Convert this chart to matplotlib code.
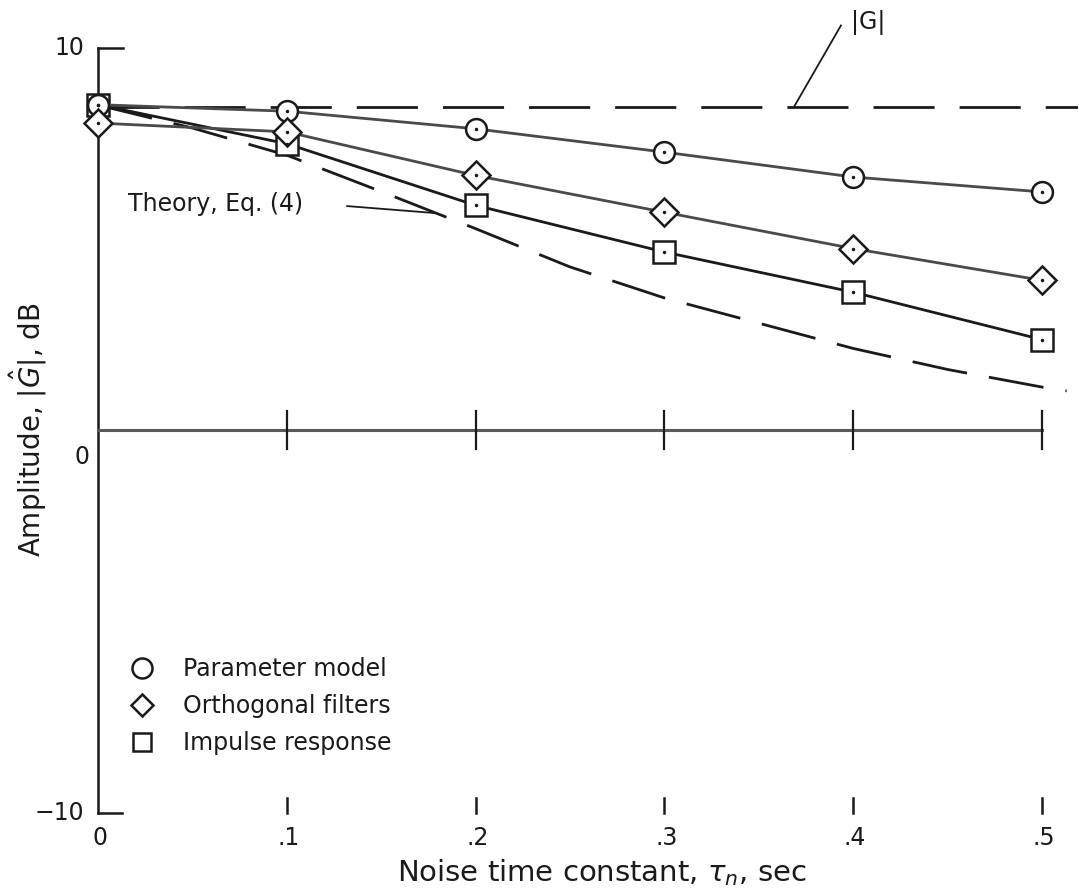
import matplotlib
matplotlib.use("Agg")
import matplotlib.pyplot as plt
from matplotlib.lines import Line2D

# ---- data ----
tau = [0.0, 0.1, 0.2, 0.3, 0.4, 0.5]
param_model = [8.51, 8.34, 7.88, 7.27, 6.62, 6.23]
orth_filters = [8.03, 7.80, 6.66, 5.70, 4.75, 3.92]
impulse_resp = [8.51, 7.49, 5.88, 4.66, 3.61, 2.37]

theory_tau = [0.0, 0.05, 0.1, 0.15, 0.2, 0.25, 0.3, 0.35, 0.4, 0.45, 0.5, 0.513]
theory_amp = [8.5, 7.9, 7.19, 6.24, 5.27, 4.27, 3.46, 2.80, 2.14, 1.59, 1.13, 1.03]

g_true = 8.45
x_ticks = [0.1, 0.2, 0.3, 0.4, 0.5]
x_tick_labels = ["0", ".1", ".2", ".3", ".4", ".5"]
y_tick_labels = ["10", "0", "\u221210"]
legend_labels = ["Parameter model", "Orthogonal filters", "Impulse response"]

plt.rcParams['font.family'] = ['DejaVu Sans']
fig = plt.figure(figsize=(10.79, 8.96), dpi=100)
ax = fig.add_axes([0.0558, 0.0713, 0.9432, 0.9182])
ax.set_xlim(-0.02, 0.519)
ax.set_ylim(-10.5, 11.0)
ax.axis('off')

ink = '#1a1a1a'
gray = '#4a4a4a'

# y axis with end stubs
ax.plot([0, 0], [-10, 10], color=ink, lw=1.8, zorder=2)
ax.plot([0, 0.0135], [10, 10], color=ink, lw=1.8)
ax.plot([0, 0.0125], [-10, -10], color=ink, lw=1.8)
# bottom ticks
for xt in x_ticks:
    ax.plot([xt, xt], [-10.0, -9.6], color=ink, lw=1.8)
# zero line with ticks
ax.plot([0, 0.5], [0, 0], color='#5a5a5a', lw=2.2)
for xt in x_ticks:
    ax.plot([xt, xt], [-0.5, 0.5], color=ink, lw=1.6)

# tick labels
fs_tick = 17
for xv, lab in zip([0.0] + x_ticks, x_tick_labels):
    ax.text(xv + 0.001, -10.65, lab, ha='center', va='center', fontsize=fs_tick, color=ink, clip_on=False)
ax.text(-0.0154, 10.0, y_tick_labels[0], ha='center', va='center', fontsize=fs_tick, color=ink)
ax.text(-0.0085, -0.7, y_tick_labels[1], ha='center', va='center', fontsize=fs_tick, color=ink)
ax.text(-0.0072, -10.0, y_tick_labels[2], ha='right', va='center', fontsize=fs_tick, color=ink)

# |G| dashed line
ax.plot([0.0, 0.519], [g_true, g_true], color=ink, lw=2.0, dashes=(22, 9), zorder=1)
ax.text(0.408, 10.66, "|G|", ha='center', va='center', fontsize=17, color=ink)
ax.plot([0.3935, 0.3686], [10.58, g_true], color=ink, lw=1.3)

# theory dashed curve
ax.plot(theory_tau, theory_amp, color=ink, lw=2.0, dashes=(20, 8), zorder=1, clip_on=False)
ax.text(0.0159, 5.92, "Theory, Eq. (4)", ha='left', va='center', fontsize=17, color=ink)
ax.plot([0.132, 0.178], [5.86, 5.68], color=ink, lw=1.3)

# series
mk = dict(mfc='white', mec=ink, mew=1.8, clip_on=False)
ax.plot(tau, param_model, '-', color=gray, lw=2.0, marker='o', ms=15, zorder=4, **mk)
ax.plot(tau, orth_filters, '-', color=gray, lw=2.0, marker='D', ms=14.5, zorder=4, **mk)
ax.plot(tau, impulse_resp, '-', color=ink, lw=2.0, marker='s', ms=15.5, zorder=3, **mk)
for ys in (param_model, orth_filters, impulse_resp):
    ax.plot(tau, ys, linestyle='none', marker='.', ms=3, color=ink, zorder=5, clip_on=False)

# legend
handles = [
    Line2D([], [], linestyle='none', marker='o', ms=14.4, mfc='white', mec=ink, mew=1.8),
    Line2D([], [], linestyle='none', marker='D', ms=11, mfc='white', mec=ink, mew=1.8),
    Line2D([], [], linestyle='none', marker='s', ms=13.5, mfc='white', mec=ink, mew=1.8),
]
leg = ax.legend(handles, legend_labels, loc='upper left', bbox_to_anchor=(0.0686, 0.2125),
                frameon=False, fontsize=17, handlelength=1.0, handletextpad=1.25,
                labelspacing=0.55, borderaxespad=0.0, borderpad=0.0)
for t in leg.get_texts():
    t.set_color(ink)

# axis labels
fig.text(0.026, 0.52, r"Amplitude, $|\hat{G}|$, dB", rotation=90, ha='center', va='center',
         fontsize=20, color=ink)
fig.text(0.558, 0.0257, r"Noise time constant, $\tau_n$, sec", ha='center', va='center',
         fontsize=21, color=ink)

fig.savefig("out.png", dpi=100)
